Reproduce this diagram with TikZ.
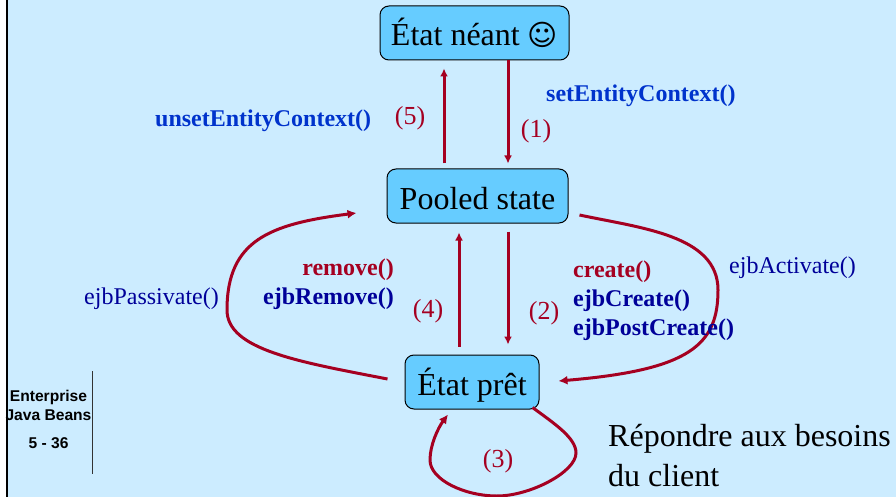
\documentclass[tikz,border=0pt]{standalone}
\usepackage{fontspec}
\setmainfont{Liberation Serif}
\newfontfamily\sidefont{Liberation Sans}
\newfontfamily\symfont{DejaVu Sans}
\usepackage{tikz}
\usetikzlibrary{arrows.meta}
\definecolor{slidebg}{HTML}{CCECFF}
\definecolor{boxfill}{HTML}{66CCFF}
\definecolor{flowred}{HTML}{A50021}
\definecolor{callblue}{HTML}{0033CC}
\definecolor{darkblue}{HTML}{000099}
\tikzset{
  state/.style={draw=black,line width=1pt,fill=boxfill,rounded corners=9pt,inner sep=0pt,
    text height=30pt,text depth=4pt,font=\fontsize{32}{36}\selectfont},
  flow/.style={draw=flowred,line width=3pt,-{Latex[length=8pt,width=8pt]}},
  loopflow/.style={flow,-{Latex[length=9pt,width=9pt]}},
  txt/.style={inner sep=0pt,font=\fontsize{24}{29}\selectfont},
  boldtxt/.style={font=\fontsize{24}{29}\selectfont\bfseries},
  step label/.style={inner sep=0pt,font=\fontsize{26}{30}\selectfont,text=flowred,anchor=center},
  call/.style={txt,anchor=base west,text=darkblue},
  bigtxt/.style={inner sep=0pt,anchor=base west,font=\fontsize{32}{36}\selectfont},
  sidetxt/.style={inner sep=0pt,anchor=base,font=\sidefont\bfseries\fontsize{15.6}{18}\selectfont}
}
\begin{document}
\begin{tikzpicture}
  [x=1pt,y=-1pt]
  \useasboundingbox (0,0) rectangle (896,497);
  \fill[slidebg] (8,0) rectangle (896,497);
  \fill[black] (6,0) rectangle (8,497);
  \draw[line width=1pt,black!80] (92,371) -- (92,474);

  \node[state,minimum width=189pt,minimum height=54pt] (neant) at (474.5,33)
    {État néant {\symfont\fontsize{29}{36}\selectfont ☺}};
  \node[state,minimum width=181pt,minimum height=54pt] (pooled) at (477.5,196) {Pooled state};
  \node[state,minimum width=134pt,minimum height=54pt] (pret) at (472,382) {État prêt};

  \draw[flow] ([xshift=-33.5pt,yshift=5pt]pooled.north) -- ([xshift=-30.5pt,yshift=-8pt]neant.south);
  \draw[flow] ([xshift=33.5pt]neant.south) -- ([xshift=30.5pt,yshift=5pt]pooled.north);
  \draw[flow] ([xshift=-13pt,yshift=8pt]pret.north) -- ([xshift=-18.5pt,yshift=-9pt]pooled.south);
  \draw[flow] ([xshift=30.5pt,yshift=-8pt]pooled.south) -- ([xshift=36pt,yshift=10pt]pret.north);

  \draw[loopflow] ([xshift=-17pt,yshift=3pt]pret.west) .. controls (300,362) and (227,350) .. (227,310)
    .. controls (227,240) and (270,224) .. ([xshift=-30pt,yshift=-17pt]pooled.west);
  \draw[loopflow] ([xshift=11pt,yshift=-19pt]pooled.east) .. controls (640,228) and (718,235) .. (718,290)
    .. controls (718,345) and (690,370) .. ([xshift=19pt,yshift=1pt]pret.east);
  \draw[loopflow] ([xshift=-7pt,yshift=2pt]pret.south east) .. controls (555,424) and (576,438) .. (576,453)
    .. controls (576,472) and (530,496) .. (497,496)
    .. controls (465,496) and (430,480) .. (430,460)
    .. controls (430,445) and (438,428) .. ([xshift=-24pt,yshift=-5pt]pret.south);

  \node[call,text=callblue,boldtxt] (setctx) at (546,102) {setEntityContext()};
  \node[call,text=callblue,boldtxt] (unsetctx) at (155,127) {unsetEntityContext()};

  \node[step label] (s5) at (410,118) {(5)};
  \node[step label] (s1) at (536,131) {(1)};
  \node[step label] (s4) at (428,311) {(4)};
  \node[step label] (s2) at (544,313) {(2)};
  \node[step label] (s3) at (498,461) {(3)};

  \node[call,anchor=base east,text=flowred,boldtxt] (remove) at (394,275) {remove()};
  \node[call,anchor=base east,boldtxt] (ejbrm) at (394,304) {ejbRemove()};
  \node[call,anchor=base east] (passivate) at (219,304) {ejbPassivate()};
  \node[call] (activate) at (729,273) {ejbActivate()};
  \node[call,text=flowred,boldtxt] (create) at (573,277) {create()};
  \node[call,boldtxt] (ejbcr) at (573,306) {ejbCreate()};
  \node[call,boldtxt] (ejbpc) at (573,335) {ejbPostCreate()};

  \node[bigtxt] (need1) at (608,446) {Répondre aux besoins};
  \node[bigtxt] (need2) at (608,486) {du client};

  \node[sidetxt] (ent) at (48.5,401) {Enterprise};
  \node[sidetxt] (jb) at (48.5,420) {Java Beans};
  \node[sidetxt] (page) at (48.5,448) {5 - 36};
\end{tikzpicture}
\end{document}
